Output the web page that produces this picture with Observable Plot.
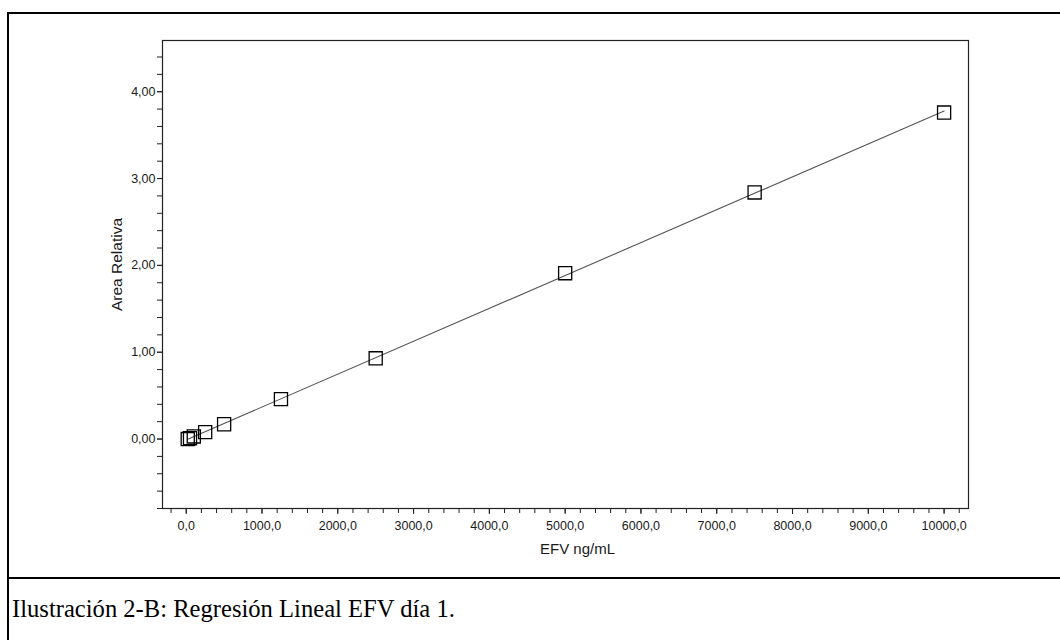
<!DOCTYPE html>
<html><head><meta charset="utf-8">
<script src="https://cdn.jsdelivr.net/npm/d3@7"></script>
<script src="https://cdn.jsdelivr.net/npm/@observablehq/plot@0.6"></script>
<style>
body{margin:0;background:#fff;width:1060px;height:640px;overflow:hidden;position:relative;}
#frame{position:absolute;left:7px;top:12px;width:1100px;height:700px;border-left:2px solid #000;border-top:2px solid #000;}
#sep{position:absolute;left:7px;top:577px;width:1100px;border-top:2px solid #000;}
#chart{position:absolute;left:0;top:0;}
#caption{position:absolute;left:12px;top:595px;font-family:"Liberation Serif","Times New Roman",serif;font-size:24.6px;color:#000;white-space:nowrap;}
</style></head>
<body>
<div id="frame"></div>
<div id="sep"></div>
<div id="chart"></div>
<div id="caption">Ilustración 2-B: Regresión Lineal EFV día 1.</div>
<script>
// Data (EFV concentration ng/mL vs relative area)
const conc = [20, 50, 100, 250, 500, 1250, 2500, 5000, 7500, 10000];
const area = [0.00, 0.01, 0.03, 0.08, 0.17, 0.46, 0.93, 1.91, 2.84, 3.76];

// Axis ticks and labels
const xMajor = [0, 1000, 2000, 3000, 4000, 5000, 6000, 7000, 8000, 9000, 10000];
const xTickLabels = ["0,0", "1000,0", "2000,0", "3000,0", "4000,0", "5000,0", "6000,0", "7000,0", "8000,0", "9000,0", "10000,0"];
const yMajor = [0, 1, 2, 3, 4];
const yTickLabels = ["0,00", "1,00", "2,00", "3,00", "4,00"];
const xMinor = d3.range(-200, 10201, 200);
const yMinor = d3.range(-8, 45, 2).map(d => d / 10);

const xTitle = "EFV ng/mL";
const yTitle = "Area Relativa";

const data = conc.map((c, i) => ({conc: c, area: area[i]}));

const chart = Plot.plot({
  width: 1060,
  height: 578,
  marginLeft: 162,
  marginRight: 92,
  marginTop: 40,
  marginBottom: 70,
  x: {domain: [-313, 10322]},
  y: {domain: [-0.8, 4.59]},
  style: {fontFamily: "'Liberation Sans', Arial, sans-serif", fontSize: "12.5px", color: "#1a1a1a", background: "transparent"},
  marks: [
    Plot.axisX(xMinor, {tickFormat: () => "", tickSize: 5, label: null, stroke: "#222"}),
    Plot.axisX(xMajor, {tickFormat: (d, i) => xTickLabels[i], tickSize: 6, tickPadding: 7, label: null, stroke: "#222"}),
    Plot.axisY(yMinor, {tickFormat: () => "", tickSize: 5, label: null, stroke: "#222"}),
    Plot.axisY(yMajor, {tickFormat: (d, i) => yTickLabels[i], tickSize: 5, tickPadding: 2, label: null, stroke: "#222"}),
    Plot.frame({stroke: "#222", strokeWidth: 1.2}),
    Plot.linearRegressionY(data, {x: "conc", y: "area", ci: 0, stroke: "#555", strokeWidth: 1.1}),
    Plot.dot(data, {x: "conc", y: "area", symbol: "square", r: 7.4, stroke: "#000", strokeWidth: 1.3, fill: "none"}),
    Plot.text([xTitle], {frameAnchor: "bottom", dx: 12, dy: 41, lineAnchor: "middle", fontSize: 15, fill: "#1a1a1a"}),
    Plot.text([yTitle], {frameAnchor: "left", dx: -45, dy: -10, rotate: -90, textAnchor: "middle", lineAnchor: "middle", fontSize: 15.5, fill: "#1a1a1a"})
  ]
});
document.getElementById("chart").appendChild(chart);
</script>
</body></html>
